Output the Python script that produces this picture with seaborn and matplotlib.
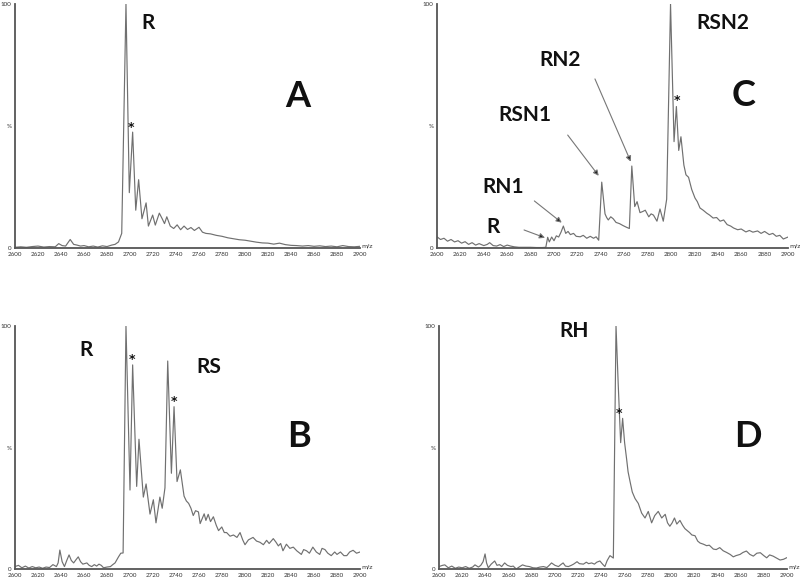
import numpy as np
import pandas as pd
import matplotlib
matplotlib.use("Agg")
import matplotlib.pyplot as plt
import seaborn as sns
from matplotlib.ticker import MultipleLocator

# Spectrum A: R alone
mz_a = [2600, 2605, 2610, 2615, 2620, 2625, 2630, 2635, 2638, 2641, 2644, 2648, 2651, 2654, 2657,
        2660, 2664, 2668, 2672, 2676, 2680, 2684, 2687, 2690, 2692.8, 2696.5, 2699.4, 2702.3, 2705,
        2707.5, 2710.4, 2714, 2716, 2719.7, 2722, 2725.5, 2728, 2730, 2732, 2735, 2738, 2741, 2744,
        2747, 2750, 2753, 2756, 2760, 2763, 2766, 2770, 2775, 2780, 2785, 2790, 2795, 2800, 2805,
        2810, 2815, 2820, 2825, 2830, 2835, 2840, 2845, 2850, 2855, 2860, 2865, 2870, 2875, 2880,
        2885, 2890, 2895, 2900]
int_a = [0.3, 0.5, 0.3, 0.6, 0.8, 0.4, 0.6, 0.5, 1.8, 1.0, 0.8, 3.5, 1.5, 1.2, 0.8,
         1.0, 0.5, 0.8, 0.4, 0.9, 0.6, 1.2, 1.5, 2.5, 6.0, 100, 22.7, 47.5, 15.5,
         28, 12, 18.5, 9, 13.5, 9.4, 14.3, 12, 10, 12.8, 9, 8, 9.5, 7.5,
         9, 7.6, 8.4, 7.2, 8.5, 6.5, 6, 5.8, 5.2, 4.8, 4.2, 3.8, 3.4, 3.2, 2.8,
         2.4, 2.1, 2.0, 1.6, 2.0, 1.4, 1.1, 1.0, 0.8, 1.0, 0.7, 0.9, 0.6, 0.8, 0.5,
         1.0, 0.6, 0.5, 0.7]

# Spectrum B: R + RS
mz_b = [2600, 2603, 2606, 2609, 2612, 2615, 2618, 2621, 2624, 2627, 2630, 2633, 2636, 2637.5, 2639,
        2641, 2643, 2645, 2647, 2649, 2651, 2653, 2655, 2657, 2659, 2662.5, 2664.5, 2666.7, 2669,
        2671, 2673, 2675, 2677, 2680, 2683, 2685, 2687, 2690, 2692, 2694, 2696.5, 2700, 2702.3,
        2705.8, 2707.8, 2711.6, 2714, 2717.4, 2720.3, 2722.6, 2726, 2728, 2730.4, 2732.8, 2736,
        2738.3, 2740.9, 2743.8, 2747, 2749, 2751, 2753, 2755, 2757, 2759.5, 2761, 2764.5, 2766,
        2768, 2770, 2772.5, 2775, 2777, 2779.8, 2782, 2784, 2787, 2790, 2793, 2795.7, 2798, 2800,
        2803, 2807, 2810, 2813, 2816, 2818.8, 2821, 2824.6, 2827, 2829, 2831, 2833, 2836, 2839,
        2842, 2845, 2849, 2851, 2853.5, 2856, 2859, 2862, 2865, 2867, 2869.5, 2872, 2875, 2878,
        2880, 2883, 2886, 2888.5, 2891, 2894, 2897, 2900]
int_b = [1.0, 1.5, 0.5, 1.2, 0.4, 1.0, 0.5, 0.8, 0.3, 0.8, 0.6, 1.8, 1.0, 2.5, 7.8,
         3.0, 1.0, 3.5, 5.8, 3.5, 2.5, 3.8, 5.0, 3.0, 2.0, 2.5, 1.5, 1.0, 1.8,
         1.2, 2.0, 1.5, 0.5, 0.8, 1.0, 1.8, 2.5, 5.0, 6.5, 6.6, 100, 32.5, 84,
         34, 53.4, 29.6, 35, 22.6, 28.5, 19, 29.6, 25, 33.4, 85.6, 39.4,
         66.8, 36, 40.8, 30, 28, 27, 25, 22, 24, 23.5, 18.7, 22.7, 20,
         22.5, 19.5, 21.5, 18, 15.8, 17.3, 15, 15, 13.5, 14, 13, 15, 12, 10,
         12, 13, 11.5, 11, 10, 11.8, 10.5, 12.5, 11, 9.5, 10.5, 7.5, 10.2, 8.5,
         9, 7.5, 6, 8, 7.5, 6.5, 9, 7, 6, 8.5, 8, 6.5, 5.5, 7,
         6, 7, 5.5, 5.5, 7, 7.7, 6.5, 7]

# Spectrum C: R, RN1, RSN1, RN2, RSN2
mz_c = [2600, 2603, 2606, 2609, 2612, 2615, 2618, 2621, 2624, 2627, 2630, 2633, 2636, 2640, 2643,
        2645, 2648, 2651, 2654, 2657, 2660, 2663, 2666, 2670, 2675, 2680, 2685, 2690, 2693,
        2694.6, 2696, 2698, 2700, 2702, 2704, 2706, 2708, 2710, 2712, 2714, 2716.7, 2719, 2722.4,
        2725, 2728, 2731, 2733.8, 2736, 2738.2, 2740.8, 2743.6, 2745, 2746.4, 2748.5, 2750.6,
        2753, 2756, 2759, 2762, 2764.4, 2766.5, 2769, 2771, 2773.5, 2776, 2778, 2781, 2783,
        2785, 2788, 2790.6, 2793.4, 2796.3, 2799.6, 2802.6, 2804.6, 2806.6, 2808.5, 2811,
        2812.8, 2815, 2817.7, 2820.5, 2822.5, 2824.8, 2827.5, 2830.5, 2833, 2836, 2839, 2842,
        2845, 2848, 2851, 2853.5, 2857, 2860, 2864, 2867, 2870, 2874, 2877, 2880, 2884, 2887,
        2890, 2893, 2896, 2900]
int_c = [4.6, 3.5, 4.0, 2.8, 3.5, 2.5, 3.0, 2.0, 2.6, 1.5, 2.2, 1.2, 1.8, 1.0, 1.5,
         2.2, 1.0, 0.8, 1.4, 0.6, 1.2, 0.8, 0.5, 0.3, 0.3, 0.3, 0.2, 0.2, 0.3,
         4.4, 2.5, 4.5, 3.0, 5.0, 4.5, 6.5, 9.0, 6.0, 6.8, 5.5, 6.0, 4.8, 4.6,
         5.2, 4.0, 4.8, 4.0, 4.6, 3.2, 27, 14, 12.5, 11.5, 12.8, 12.0,
         10.5, 10.0, 9.2, 8.5, 8.0, 33.6, 17, 19, 14.5, 15.0, 15.5, 12.8, 14.0,
         13.5, 11.0, 16.0, 11.0, 20, 100, 43.6, 58, 40, 45.6, 34,
         30, 29, 24, 20.5, 19, 16.4, 15.5, 14.3, 13.5, 12.3, 12.5, 11,
         11.5, 9.6, 9.0, 8.2, 7.5, 7.8, 6.6, 7.2, 6.5, 7.0, 6.0, 6.8, 5.5, 6.0,
         4.8, 5.2, 3.7, 4.5]

# Spectrum D: RH
mz_d = [2600, 2603, 2605, 2608, 2611, 2614, 2617, 2620, 2623, 2626, 2629, 2631, 2634, 2636, 2638,
        2639.7, 2641, 2642.5, 2645, 2648, 2650, 2652, 2654, 2656.6, 2659, 2662, 2664, 2666.6, 2669,
        2672, 2675, 2678, 2681, 2684, 2687, 2690, 2693, 2695, 2697, 2700, 2703, 2705, 2707, 2709,
        2711.5, 2714, 2716, 2719, 2721, 2724.5, 2727, 2729, 2731.6, 2734, 2736, 2738.7, 2741, 2743,
        2745, 2747.4, 2750.3, 2752.6, 2754.5, 2756.6, 2758.3, 2760, 2761.8, 2763, 2764.7, 2766.6,
        2769, 2771.8, 2774.7, 2777.6, 2780.4, 2783.3, 2786, 2789, 2792, 2795, 2797, 2799, 2801,
        2803, 2805, 2807.7, 2810, 2812, 2814, 2816, 2818, 2820.7, 2823, 2825, 2828, 2830.7, 2833,
        2836.5, 2839, 2842, 2845, 2848, 2851, 2853.7, 2856, 2859.5, 2862, 2865, 2868, 2871, 2874,
        2877, 2880, 2882.5, 2885, 2888, 2891, 2894, 2897, 2900]
int_d = [1.0, 1.5, 1.7, 0.5, 1.2, 0.3, 0.8, 0.5, 1.0, 0.3, 0.8, 1.7, 0.8, 1.5, 3.0,
         6.2, 2.5, 0.5, 2.0, 3.3, 1.5, 1.8, 1.0, 2.5, 1.5, 1.0, 1.2, 0.0, 0.8,
         1.7, 1.2, 1.0, 0.5, 0.4, 0.8, 1.0, 0.6, 1.5, 2.5, 1.5, 1.0, 1.8, 2.5, 1.2,
         1.0, 1.5, 2.0, 3.0, 2.2, 2.0, 2.8, 2.2, 2.5, 2.0, 2.8, 3.3, 2.0, 1.0,
         3.5, 5.5, 4.5, 100, 76, 52, 62, 52, 45, 40, 36, 31.7,
         29, 27, 23, 21, 23.7, 19, 22, 23.7, 21, 22.5, 19, 17.6, 19,
         21, 18.5, 20, 18, 16.6, 15.8, 15, 14, 13.7, 11.5, 10.7, 10.2, 9.6, 9.8,
         8.2, 8.0, 8.8, 7.5, 6.8, 6.0, 5.0, 5.5, 6.0, 6.8, 7.4, 6.0, 5.3, 6.5,
         6.7, 5.5, 4.6, 5.8, 5.3, 4.5, 3.7, 4.0, 4.7]

sns.set_style("white")
plt.rcParams["font.family"] = ["Lato", "DejaVu Sans"]

fig = plt.figure(figsize=(8, 5.81), dpi=100)

LINE = "#707070"
SPINE = "#555555"


def spectrum(rect, mz, inten):
    ax = fig.add_axes(rect)
    df = pd.DataFrame({"mz": mz, "pct": inten})
    sns.lineplot(data=df, x="mz", y="pct", ax=ax, color=LINE, linewidth=0.85,
                 estimator=None, sort=False)
    ax.set_xlim(2600, 2900)
    ax.set_ylim(0, 100)
    for s in ["top", "right"]:
        ax.spines[s].set_visible(False)
    for s in ["left", "bottom"]:
        ax.spines[s].set_color(SPINE)
        ax.spines[s].set_linewidth(1.3)
    ax.set_xticks(np.arange(2600, 2901, 20))
    ax.xaxis.set_minor_locator(MultipleLocator(4))
    ax.set_yticks([0, 50, 100])
    ax.set_yticklabels(["0", "%", "100"])
    ax.yaxis.set_minor_locator(MultipleLocator(10))
    ax.tick_params(axis="both", which="major", direction="out", length=2, width=0.6,
                   color=SPINE, labelsize=4.5, pad=1, labelcolor="#333333")
    ax.tick_params(axis="both", which="minor", direction="out", length=1.2, width=0.5,
                   color=SPINE)
    ax.tick_params(axis="y", which="major", length=1.5)
    ax.set_xlabel("")
    ax.set_ylabel("")
    ax.text(1.003, 0.0, "m/z", transform=ax.transAxes, fontsize=4.5, color="#333333",
            ha="left", va="bottom", family="DejaVu Sans")
    return ax


def lab(ax, x, y, s, size=15):
    ax.text(x, y, s, fontsize=size, fontweight="bold", ha="center", va="center",
            color="#111111")


def star(ax, x, y):
    ax.text(x, y, "*", fontsize=9, fontweight="bold", ha="center", va="center",
            color="#111111", family="DejaVu Sans")


ax_a = spectrum([0.01875, 0.5731, 0.43125, 0.42], mz_a, int_a)
ax_c = spectrum([0.54625, 0.5731, 0.43875, 0.42], mz_c, int_c)
ax_b = spectrum([0.01875, 0.02065, 0.43125, 0.4182], mz_b, int_b)
ax_d = spectrum([0.54875, 0.02065, 0.435, 0.4182], mz_d, int_d)

# panel A
lab(ax_a, 2715.7, 92.2, "R")
lab(ax_a, 2845.8, 62, "A", 26)
star(ax_a, 2700.9, 49.5)

# panel B
lab(ax_b, 2661.7, 90.1, "R")
lab(ax_b, 2768.1, 83.3, "RS")
lab(ax_b, 2847, 54.4, "B", 26)
star(ax_b, 2702, 86.2)
star(ax_b, 2738.3, 68.9)

# panel C
lab(ax_c, 2844.2, 92.3, "RSN2")
lab(ax_c, 2861.8, 62.7, "C", 26)
lab(ax_c, 2705.1, 77, "RN2")
lab(ax_c, 2675.2, 54.5, "RSN1")
lab(ax_c, 2656.4, 25, "RN1")
lab(ax_c, 2647.9, 8.7, "R")
star(ax_c, 2804.9, 60.3)
arrows = [((2674.4, 7.4), (2692.3, 4.2)),
          ((2683.2, 19.3), (2706.6, 10.4)),
          ((2711.7, 46.3), (2738.2, 29.6)),
          ((2735.0, 69.3), (2765.6, 35.4))]
for start, end in arrows:
    ax_c.annotate("", xy=end, xytext=start,
                  arrowprops=dict(arrowstyle="-|>", edgecolor="#777777", facecolor="#222222",
                                  lw=0.8, mutation_scale=8, shrinkA=0, shrinkB=0))

# panel D
lab(ax_d, 2716.4, 98, "RH")
lab(ax_d, 2866.6, 54.4, "D", 26)
star(ax_d, 2755.2, 63.8)

fig.savefig("out.png", dpi=100, facecolor="white")
